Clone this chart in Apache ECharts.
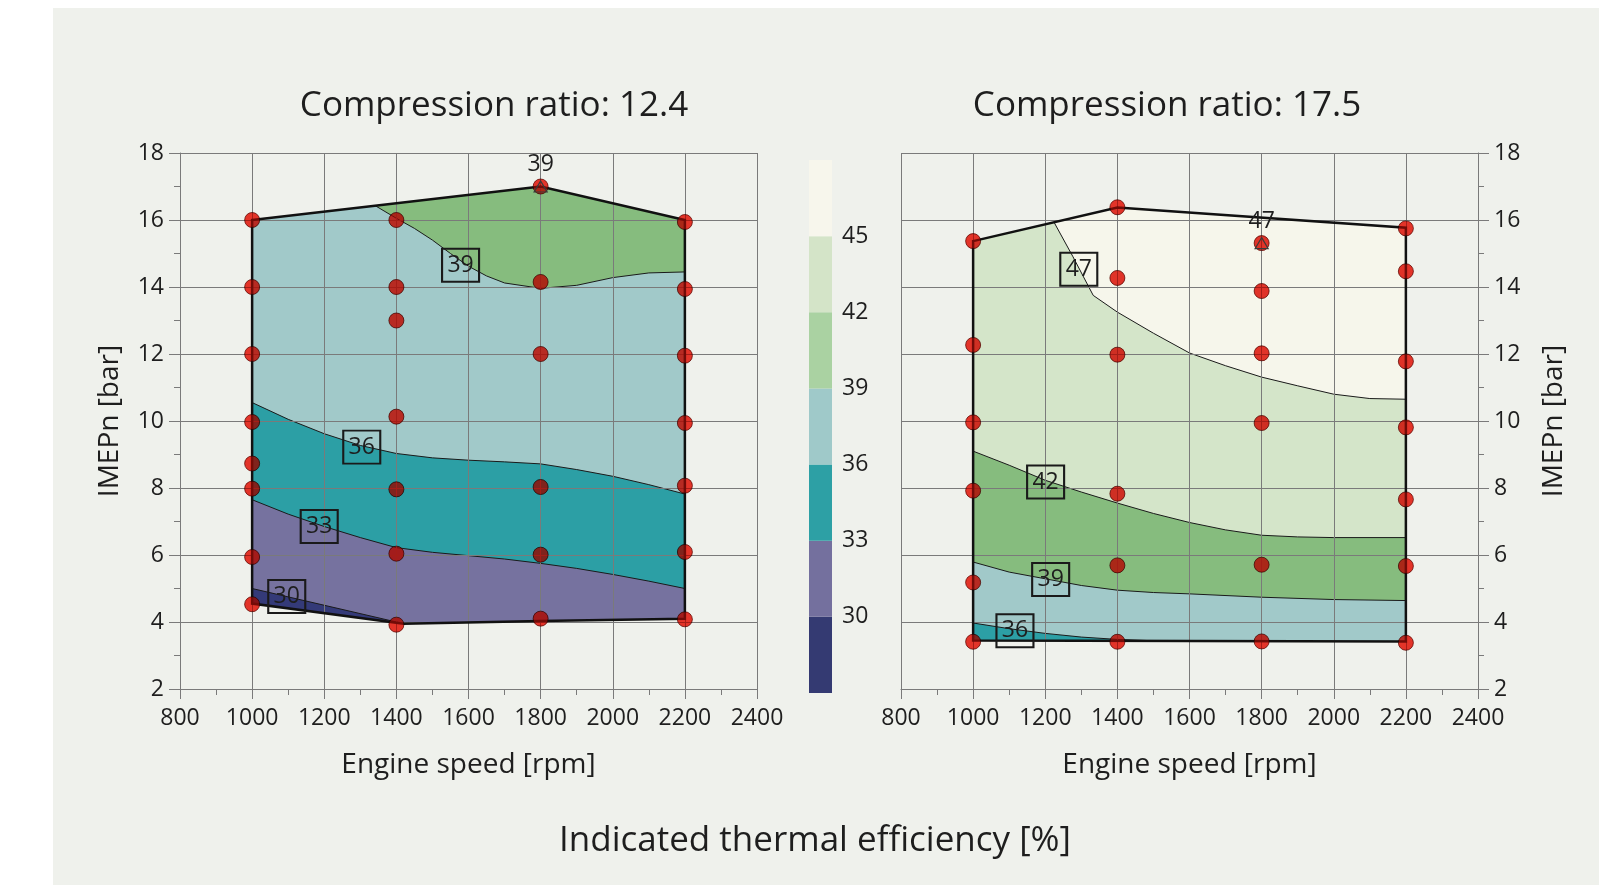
<!DOCTYPE html>
<html>
<head>
<meta charset="utf-8">
<script src="https://cdn.jsdelivr.net/npm/echarts@6/dist/echarts.min.js"></script>
<style>
html, body { margin: 0; padding: 0; background: #ffffff; }
#bg { position: absolute; left: 53px; top: 8px; width: 1546px; height: 877px; background: #eff1ec; }
#chart { position: absolute; left: 0; top: 0; width: 1599px; height: 885px; }
</style>
</head>
<body>
<div id="bg"></div>
<div id="chart"></div>
<script>
var FONT = 'Open Sans';
var TEXT = '#1e1e1e';
var GRID = '#7a7a7a';

// compression ratio 12.4 (left map) - envelope, iso lines, measured points
var leftTop = [[1000, 16], [1800, 17], [2200, 16]];
var leftBottom = [[2200, 4.1], [1800, 4.03], [1420, 3.95], [1000, 4.55]];
var leftIso30 = [[1000, 5.0], [1200, 4.5], [1420, 3.95]];
var leftIso33 = [[1000, 7.65], [1100, 7.22], [1200, 6.85], [1300, 6.52], [1400, 6.22], [1500, 6.08],
    [1600, 5.98], [1700, 5.88], [1800, 5.75], [1900, 5.6], [2000, 5.42], [2100, 5.22], [2200, 5.0]];
var leftIso36 = [[1000, 10.55], [1100, 10.05], [1200, 9.62], [1300, 9.27], [1400, 9.03], [1500, 8.9],
    [1600, 8.83], [1700, 8.78], [1800, 8.72], [1900, 8.55], [2000, 8.35], [2100, 8.1], [2200, 7.82]];
var leftIso39 = [[1341, 16.43], [1400, 16.05], [1450, 15.75], [1500, 15.4], [1550, 15.0], [1600, 14.62],
    [1650, 14.33], [1700, 14.12], [1800, 13.96], [1900, 14.05], [2000, 14.28], [2100, 14.42], [2200, 14.45]];
var leftDots = [[1000, 16], [1000, 14], [1000, 12], [1000, 9.97], [1000, 8.73], [1000, 7.98], [1000, 5.94], [1000, 4.53],
    [1400, 16], [1400, 14], [1400, 13], [1400, 10.13], [1400, 7.96], [1400, 6.04], [1400, 3.92],
    [1800, 17], [1800, 14.15], [1800, 12], [1800, 8.03], [1800, 6.01], [1800, 4.1],
    [2200, 15.94], [2200, 13.94], [2200, 11.95], [2200, 9.94], [2200, 8.07], [2200, 6.09], [2200, 4.08]];
var leftMax = [[1800, 17, '39']];
var leftTags = [[1578, 14.65, '39'], [1304, 9.22, '36'], [1186, 6.85, '33'], [1096, 4.76, '30']];

// compression ratio 17.5 (right map)
var rightTop = [[1000, 15.37], [1400, 16.37], [2200, 15.77]];
var rightBottom = [[2200, 3.42], [1000, 3.45]];
var rightIso36 = [[1000, 3.97], [1100, 3.8], [1200, 3.66], [1300, 3.55], [1400, 3.48], [1500, 3.44]];
var rightIso39 = [[1000, 5.79], [1100, 5.49], [1200, 5.29], [1300, 5.09], [1400, 4.95], [1500, 4.88],
    [1600, 4.84], [1800, 4.74], [2000, 4.67], [2200, 4.64]];
var rightIso42 = [[1000, 9.1], [1100, 8.68], [1200, 8.23], [1300, 7.88], [1400, 7.55], [1500, 7.24],
    [1600, 6.97], [1700, 6.75], [1800, 6.59], [1900, 6.54], [2000, 6.52], [2200, 6.52]];
var rightIso45 = [[1224, 15.94], [1277, 14.9], [1333, 13.75], [1400, 13.25], [1500, 12.62], [1600, 12.03],
    [1700, 11.65], [1800, 11.31], [1900, 11.05], [2000, 10.8], [2100, 10.67], [2200, 10.65]];
var rightDots = [[1000, 15.37], [1000, 12.27], [1000, 9.96], [1000, 7.92], [1000, 5.18], [1000, 3.41],
    [1400, 16.38], [1400, 14.27], [1400, 11.98], [1400, 7.83], [1400, 5.69], [1400, 3.41],
    [1800, 15.31], [1800, 13.88], [1800, 12.02], [1800, 9.94], [1800, 5.71], [1800, 3.42],
    [2200, 15.75], [2200, 14.47], [2200, 11.78], [2200, 9.81], [2200, 7.66], [2200, 5.67], [2200, 3.38]];
var rightMax = [[1800, 15.31, '47']];
var rightTags = [[1293, 14.53, '47'], [1201, 8.18, '42'], [1215, 5.27, '39'], [1116, 3.74, '36']];

// colour scale
var bandLevels = [27, 30, 33, 36, 39, 42, 45, 48];
var bandColors = ['#343a78', '#76729f', '#2c9fa5', '#a1c9c9', '#86bc7e', '#d4e5c9', '#f6f6eb'];
var barColors = ['#343a72', '#74709e', '#2da0a5', '#9fc9c9', '#aad2a2', '#d4e4c8', '#f7f6ec'];

// region above an iso line, closed along the envelope
function above(iso, top, bottom) {
    var x0 = iso[0][0], x1 = iso[iso.length - 1][0];
    var lower = bottom.filter(function (p) { return p[0] > x1; }).sort(function (a, b) { return a[0] - b[0]; });
    var upper = top.filter(function (p) { return p[0] >= x0; }).reverse();
    return iso.concat(lower, upper);
}

function shape(idx, pts, type, style, z) {
    return {
        type: 'custom', xAxisIndex: idx, yAxisIndex: idx, z: z, silent: true,
        data: [[pts[0][0], pts[0][1]]],
        renderItem: function (params, api) {
            return {
                type: type,
                shape: { points: pts.map(function (p) { return api.coord(p); }) },
                style: style
            };
        }
    };
}

function mapSeries(idx, top, bottom, isos, firstBand, dots, maxPt, tags) {
    var list = [];
    var env = top.concat(bottom);
    list.push(shape(idx, env, 'polygon', { fill: bandColors[firstBand] }, 1));
    isos.forEach(function (iso, i) {
        list.push(shape(idx, above(iso, top, bottom), 'polygon', { fill: bandColors[firstBand + 1 + i] }, 1));
    });
    isos.forEach(function (iso) {
        list.push(shape(idx, iso, 'polyline', { fill: null, stroke: '#1a1a1a', lineWidth: 1 }, 2));
    });
    list.push(shape(idx, env, 'polygon', { fill: null, stroke: '#111', lineWidth: 2.5 }, 6));
    // measured points: a soft red base, then a darkening pass
    list.push({
        type: 'scatter', xAxisIndex: idx, yAxisIndex: idx, z: 7, silent: true,
        data: dots, symbolSize: 15,
        itemStyle: { color: '#e02a1e', opacity: 0.5 }
    });
    list.push({
        type: 'scatter', xAxisIndex: idx, yAxisIndex: idx, z: 7, silent: true,
        data: dots, symbolSize: 15, blendMode: 'multiply',
        itemStyle: { color: '#f0301f', borderColor: '#6a1c14', borderWidth: 1, opacity: 0.8 }
    });
    list.push({
        type: 'scatter', xAxisIndex: idx, yAxisIndex: idx, z: 8, silent: true,
        data: maxPt.map(function (t) { return { value: [t[0], t[1]], name: t[2] }; }),
        symbol: 'triangle', symbolSize: [13, 11],
        itemStyle: { color: 'rgba(0,0,0,0)', borderColor: '#3a3a3a', borderWidth: 1.2, opacity: 1 },
        label: { show: true, position: 'top', distance: 4, formatter: '{b}', fontSize: 23, fontFamily: FONT, color: TEXT }
    });
    list.push({
        type: 'scatter', xAxisIndex: idx, yAxisIndex: idx, z: 8, silent: true,
        data: tags.map(function (t) { return { value: [t[0], t[1]], name: t[2] }; }),
        symbol: 'rect', symbolSize: [37, 33],
        itemStyle: { color: 'rgba(0,0,0,0)', borderColor: '#1a1a1a', borderWidth: 2, opacity: 1 },
        label: { show: true, position: 'inside', formatter: '{b}', fontSize: 23, fontFamily: FONT, color: TEXT }
    });
    return list;
}

function xAxisOf(idx) {
    return {
        gridIndex: idx, type: 'value', min: 800, max: 2400, interval: 200, z: 5,
        name: 'Engine speed [rpm]', nameLocation: 'middle', nameGap: 62,
        nameTextStyle: { fontSize: 28, color: TEXT, fontFamily: FONT },
        axisLine: { show: true, onZero: false, lineStyle: { color: GRID, width: 1 } },
        axisTick: { show: true, length: 10, lineStyle: { color: GRID } },
        minorTick: { show: true, splitNumber: 2, length: 6, lineStyle: { color: GRID } },
        splitLine: { show: true, lineStyle: { color: GRID, width: 1 } },
        axisLabel: {
            fontSize: 23, color: TEXT, margin: 18, fontFamily: FONT,
            formatter: function (v) { return String(v); }
        }
    };
}

function yAxisOf(idx, side, gap) {
    return {
        gridIndex: idx, type: 'value', min: 2, max: 18, interval: 2, position: side, z: 5,
        name: 'IMEPn [bar]', nameLocation: 'middle', nameGap: gap, nameRotate: 90,
        nameTextStyle: { fontSize: 28, color: TEXT, fontFamily: FONT },
        axisLine: { show: true, onZero: false, lineStyle: { color: GRID, width: 1 } },
        axisTick: { show: true, length: 11, lineStyle: { color: GRID } },
        minorTick: { show: true, splitNumber: 2, length: 6, lineStyle: { color: GRID } },
        splitLine: { show: true, lineStyle: { color: GRID, width: 1 } },
        axisLabel: { fontSize: 23, color: TEXT, margin: 16, fontFamily: FONT }
    };
}

var chart = echarts.init(document.getElementById('chart'));

var series = []
    .concat(mapSeries(0, leftTop, leftBottom, [leftIso30, leftIso33, leftIso36, leftIso39], 0, leftDots, leftMax, leftTags))
    .concat(mapSeries(1, rightTop, rightBottom, [rightIso36, rightIso39, rightIso42, rightIso45], 2, rightDots, rightMax, rightTags));

series.push({
    type: 'custom', xAxisIndex: 2, yAxisIndex: 2, z: 2, silent: true,
    data: bandLevels.slice(0, -1).map(function (v, i) { return [v, bandLevels[i + 1]]; }),
    renderItem: function (params, api) {
        var p0 = api.coord([0, api.value(1)]);
        var p1 = api.coord([1, api.value(0)]);
        return {
            type: 'rect',
            shape: { x: p0[0], y: p0[1], width: p1[0] - p0[0], height: p1[1] - p0[1] },
            style: { fill: barColors[params.dataIndex] }
        };
    }
});

chart.setOption({
    animation: false,
    textStyle: { fontFamily: FONT },
    grid: [
        { left: 180, top: 153, width: 577, height: 536 },
        { left: 901, top: 153, width: 577, height: 536 },
        { left: 809, top: 160, width: 23, height: 533 }
    ],
    xAxis: [
        xAxisOf(0),
        xAxisOf(1),
        { gridIndex: 2, type: 'value', min: 0, max: 1, show: false }
    ],
    yAxis: [
        yAxisOf(0, 'left', 56),
        yAxisOf(1, 'right', 62),
        {
            gridIndex: 2, type: 'value', min: 27, max: 48, interval: 3, position: 'right',
            axisLine: { show: false }, axisTick: { show: false }, splitLine: { show: false },
            axisLabel: {
                margin: 10, fontSize: 23, color: TEXT, fontFamily: FONT,
                formatter: function (v) { return (v > 27 && v < 48) ? String(v) : ''; }
            }
        }
    ],
    graphic: [
        { type: 'text', x: 494, y: 106, style: { text: 'Compression ratio: 12.4', fontSize: 35, fontFamily: FONT, fill: TEXT, align: 'center', verticalAlign: 'middle' } },
        { type: 'text', x: 1167, y: 106, style: { text: 'Compression ratio: 17.5', fontSize: 35, fontFamily: FONT, fill: TEXT, align: 'center', verticalAlign: 'middle' } },
        { type: 'text', x: 815, y: 841, style: { text: 'Indicated thermal efficiency [%]', fontSize: 35, fontFamily: FONT, fill: TEXT, align: 'center', verticalAlign: 'middle' } }
    ],
    series: series
});
</script>
</body>
</html>
